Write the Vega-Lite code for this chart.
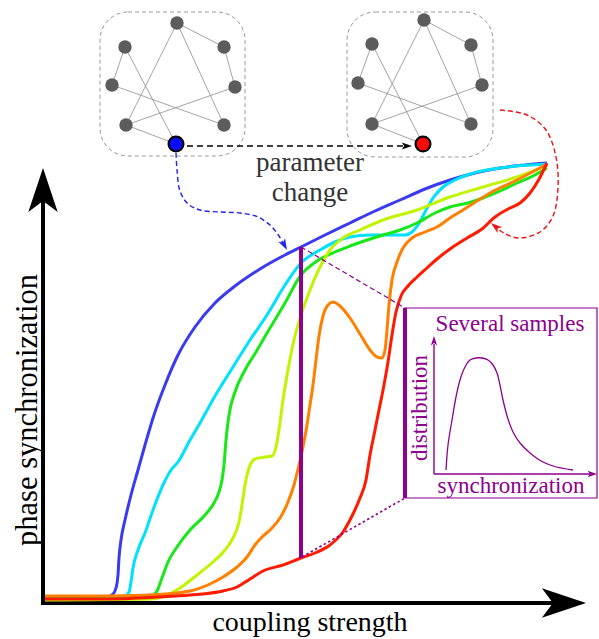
{
"$schema": "https://vega.github.io/schema/vega-lite/v6.json",
"width": 599, "height": 639, "padding": 0, "autosize": {"type": "none"},
"background": "white",
"config": {"view": {"stroke": null}},
"encoding": {
  "x": {"field": "x", "type": "quantitative", "scale": {"domain": [0, 599], "nice": false, "zero": false}, "axis": null},
  "y": {"field": "y", "type": "quantitative", "scale": {"domain": [0, 639], "nice": false, "zero": false, "reverse": true}, "axis": null}
},
"layer": [
  {"data": {"values": [{"x": 100, "x2": 245, "y": 12, "y2": 156}, {"x": 347, "x2": 493, "y": 12, "y2": 157}]},
   "mark": {"type": "rect", "fill": "white", "fillOpacity": 0, "stroke": "#9a9a9a", "strokeWidth": 1, "strokeDash": [4, 3], "cornerRadius": 28},
   "encoding": {"x2": {"field": "x2"}, "y2": {"field": "y2"}}},
  {"data": {"values": [
    {"x": 177, "y": 23, "x2": 224, "y2": 47}, {"x": 177, "y": 23, "x2": 224, "y2": 125}, {"x": 177, "y": 23, "x2": 126, "y2": 125},
    {"x": 125, "y": 47, "x2": 112, "y2": 85}, {"x": 125, "y": 47, "x2": 176, "y2": 144}, {"x": 224, "y": 47, "x2": 235, "y2": 87},
    {"x": 112, "y": 85, "x2": 224, "y2": 125}, {"x": 235, "y": 87, "x2": 126, "y2": 125}, {"x": 126, "y": 125, "x2": 176, "y2": 144},
    {"x": 424, "y": 20, "x2": 471, "y2": 45}, {"x": 424, "y": 20, "x2": 471, "y2": 124}, {"x": 424, "y": 20, "x2": 372, "y2": 124},
    {"x": 372, "y": 44, "x2": 358, "y2": 83}, {"x": 372, "y": 44, "x2": 423, "y2": 144}, {"x": 471, "y": 45, "x2": 482, "y2": 85},
    {"x": 358, "y": 83, "x2": 471, "y2": 124}, {"x": 482, "y": 85, "x2": 372, "y2": 124}, {"x": 372, "y": 124, "x2": 423, "y2": 144}
  ]},
   "mark": {"type": "rule", "stroke": "#8c8c8c", "strokeWidth": 0.8},
   "encoding": {"x2": {"field": "x2"}, "y2": {"field": "y2"}}},
  {"data": {"values": [
    {"x": 177, "y": 23}, {"x": 125, "y": 47}, {"x": 224, "y": 47}, {"x": 112, "y": 85}, {"x": 235, "y": 87}, {"x": 126, "y": 125}, {"x": 224, "y": 125},
    {"x": 424, "y": 20}, {"x": 372, "y": 44}, {"x": 471, "y": 45}, {"x": 358, "y": 83}, {"x": 482, "y": 85}, {"x": 372, "y": 124}, {"x": 471, "y": 124}
  ]},
   "mark": {"type": "point", "shape": "circle", "filled": true, "fill": "#5c5c5c", "opacity": 1, "size": 180, "strokeWidth": 0}},
  {"data": {"values": [{"x": 187, "y": 146, "x2": 403, "y2": 146}]},
   "mark": {"type": "rule", "stroke": "black", "strokeWidth": 1.3, "strokeDash": [6, 4]},
   "encoding": {"x2": {"field": "x2"}, "y2": {"field": "y2"}}},
  {"data": {"values": [{"x": 412, "y": 146}]},
   "mark": {"type": "point", "shape": "M0,0 L0.6,1.8 L0,1.35 L-0.6,1.8 Z", "filled": true, "fill": "black", "opacity": 1, "strokeWidth": 0, "size": 130, "angle": 90}},
  {"data": {"values": [{"x": 176, "y": 153}, {"x": 177, "y": 170}, {"x": 180, "y": 191}, {"x": 188, "y": 204}, {"x": 200, "y": 210}, {"x": 220, "y": 212}, {"x": 240, "y": 213}, {"x": 258, "y": 217}, {"x": 271, "y": 226}, {"x": 279, "y": 236}, {"x": 283, "y": 243}]},
   "mark": {"type": "line", "stroke": "#2222ee", "strokeWidth": 1.4, "strokeDash": [5, 3], "interpolate": "catmull-rom"},
   "encoding": {"order": {"value": null}}},
  {"data": {"values": [{"x": 287, "y": 250}]},
   "mark": {"type": "point", "shape": "M0,0 L0.6,1.8 L0,1.35 L-0.6,1.8 Z", "filled": true, "fill": "#2222ee", "opacity": 1, "strokeWidth": 0, "size": 160, "angle": 152}},
  {"data": {"values": [{"x": 500, "y": 110}, {"x": 527, "y": 115}, {"x": 546, "y": 130}, {"x": 556, "y": 157}, {"x": 558, "y": 187}, {"x": 553, "y": 216}, {"x": 540, "y": 232}, {"x": 518, "y": 238}, {"x": 504, "y": 233}, {"x": 497, "y": 228}]},
   "mark": {"type": "line", "stroke": "#ee1111", "strokeWidth": 1.4, "strokeDash": [5, 3], "interpolate": "catmull-rom"},
   "encoding": {"order": {"value": null}}},
  {"data": {"values": [{"x": 491, "y": 223}]},
   "mark": {"type": "point", "shape": "M0,0 L0.6,1.8 L0,1.35 L-0.6,1.8 Z", "filled": true, "fill": "#ee1111", "opacity": 1, "strokeWidth": 0, "size": 160, "angle": 309}},
  {"data": {"values": [{"x": 176, "y": 144}]},
   "mark": {"type": "point", "shape": "circle", "filled": true, "fill": "#0a0aff", "stroke": "black", "strokeWidth": 2.2, "opacity": 1, "size": 220}},
  {"data": {"values": [{"x": 423, "y": 144}]},
   "mark": {"type": "point", "shape": "circle", "filled": true, "fill": "#ff0a0a", "stroke": "black", "strokeWidth": 2.2, "opacity": 1, "size": 220}},
  {"data": {"values": [{"x": 310, "y": 171, "t": "parameter"}, {"x": 310, "y": 201, "t": "change"}]},
   "mark": {"type": "text", "font": "Liberation Serif", "fontSize": 27, "fill": "#333333", "align": "center", "baseline": "alphabetic"},
   "encoding": {"text": {"field": "t"}}},
  {"data": {"values": [{"x": 43, "y": 605, "x2": 43, "y2": 190}, {"x": 41, "y": 603, "x2": 565, "y2": 603}]},
   "mark": {"type": "rule", "stroke": "black", "strokeWidth": 4},
   "encoding": {"x2": {"field": "x2"}, "y2": {"field": "y2"}}},
  {"data": {"values": [{"x": 43, "y": 168}]},
   "mark": {"type": "point", "shape": "M0,0 L0.6,1.8 L0,1.35 L-0.6,1.8 Z", "filled": true, "fill": "black", "opacity": 1, "strokeWidth": 0, "size": 2400, "angle": 0}},
  {"data": {"values": [{"x": 586, "y": 603}]},
   "mark": {"type": "point", "shape": "M0,0 L0.6,1.8 L0,1.35 L-0.6,1.8 Z", "filled": true, "fill": "black", "opacity": 1, "strokeWidth": 0, "size": 2400, "angle": 90}},
  {"data": {"values": [
    {"s":"c1","x":45,"y":598},{"s":"c1","x":100,"y":598},{"s":"c1","x":108,"y":597},{"s":"c1","x":113,"y":594},{"s":"c1","x":116,"y":588},{"s":"c1","x":118,"y":575},{"s":"c1","x":119,"y":558},{"s":"c1","x":121,"y":540},{"s":"c1","x":125,"y":520},{"s":"c1","x":131,"y":495},{"s":"c1","x":138,"y":470},{"s":"c1","x":145,"y":445},{"s":"c1","x":154,"y":415},{"s":"c1","x":165,"y":385},{"s":"c1","x":178,"y":355},{"s":"c1","x":195,"y":327},{"s":"c1","x":215,"y":303},{"s":"c1","x":235,"y":286},{"s":"c1","x":260,"y":269},{"s":"c1","x":285,"y":255},{"s":"c1","x":301,"y":247},{"s":"c1","x":325,"y":235},{"s":"c1","x":350,"y":223},{"s":"c1","x":375,"y":211},{"s":"c1","x":400,"y":200},{"s":"c1","x":425,"y":189},{"s":"c1","x":450,"y":180},{"s":"c1","x":475,"y":173},{"s":"c1","x":500,"y":168},{"s":"c1","x":525,"y":165},{"s":"c1","x":547,"y":163},
    {"s":"c2","x":45,"y":598},{"s":"c2","x":110,"y":597},{"s":"c2","x":125,"y":596},{"s":"c2","x":129,"y":592},{"s":"c2","x":131,"y":582},{"s":"c2","x":133,"y":568},{"s":"c2","x":138,"y":550},{"s":"c2","x":145,"y":533},{"s":"c2","x":153,"y":510},{"s":"c2","x":163,"y":485},{"s":"c2","x":171,"y":470},{"s":"c2","x":178,"y":462},{"s":"c2","x":190,"y":440},{"s":"c2","x":200,"y":423},{"s":"c2","x":215,"y":396},{"s":"c2","x":233,"y":367},{"s":"c2","x":250,"y":340},{"s":"c2","x":267,"y":315},{"s":"c2","x":285,"y":285},{"s":"c2","x":301,"y":263},{"s":"c2","x":320,"y":250},{"s":"c2","x":335,"y":242},{"s":"c2","x":350,"y":237},{"s":"c2","x":370,"y":235},{"s":"c2","x":390,"y":235},{"s":"c2","x":405,"y":235},{"s":"c2","x":412,"y":232},{"s":"c2","x":418,"y":225},{"s":"c2","x":425,"y":212},{"s":"c2","x":433,"y":198},{"s":"c2","x":443,"y":187},{"s":"c2","x":455,"y":180},{"s":"c2","x":470,"y":174},{"s":"c2","x":500,"y":168},{"s":"c2","x":547,"y":164},
    {"s":"c3","x":45,"y":599},{"s":"c3","x":140,"y":598},{"s":"c3","x":152,"y":596},{"s":"c3","x":157,"y":591},{"s":"c3","x":162,"y":578},{"s":"c3","x":168,"y":562},{"s":"c3","x":177,"y":547},{"s":"c3","x":190,"y":530},{"s":"c3","x":205,"y":515},{"s":"c3","x":214,"y":503},{"s":"c3","x":219,"y":492},{"s":"c3","x":222,"y":480},{"s":"c3","x":224,"y":465},{"s":"c3","x":226,"y":440},{"s":"c3","x":229,"y":415},{"s":"c3","x":235,"y":392},{"s":"c3","x":245,"y":370},{"s":"c3","x":256,"y":352},{"s":"c3","x":267,"y":333},{"s":"c3","x":285,"y":303},{"s":"c3","x":301,"y":275},{"s":"c3","x":317,"y":261},{"s":"c3","x":335,"y":252},{"s":"c3","x":350,"y":246},{"s":"c3","x":383,"y":235},{"s":"c3","x":400,"y":230},{"s":"c3","x":417,"y":223},{"s":"c3","x":435,"y":213},{"s":"c3","x":450,"y":207},{"s":"c3","x":468,"y":203},{"s":"c3","x":483,"y":198},{"s":"c3","x":500,"y":191},{"s":"c3","x":517,"y":183},{"s":"c3","x":535,"y":175},{"s":"c3","x":547,"y":168},
    {"s":"c4","x":45,"y":600},{"s":"c4","x":150,"y":599},{"s":"c4","x":167,"y":595},{"s":"c4","x":180,"y":588},{"s":"c4","x":197,"y":575},{"s":"c4","x":213,"y":562},{"s":"c4","x":225,"y":550},{"s":"c4","x":233,"y":538},{"s":"c4","x":239,"y":522},{"s":"c4","x":242,"y":505},{"s":"c4","x":245,"y":485},{"s":"c4","x":249,"y":468},{"s":"c4","x":255,"y":459},{"s":"c4","x":265,"y":457},{"s":"c4","x":272,"y":456},{"s":"c4","x":276,"y":447},{"s":"c4","x":279,"y":430},{"s":"c4","x":283,"y":400},{"s":"c4","x":288,"y":370},{"s":"c4","x":294,"y":340},{"s":"c4","x":301,"y":315},{"s":"c4","x":310,"y":290},{"s":"c4","x":320,"y":267},{"s":"c4","x":330,"y":250},{"s":"c4","x":343,"y":238},{"s":"c4","x":360,"y":230},{"s":"c4","x":383,"y":220},{"s":"c4","x":417,"y":210},{"s":"c4","x":450,"y":197},{"s":"c4","x":483,"y":187},{"s":"c4","x":517,"y":177},{"s":"c4","x":547,"y":166},
    {"s":"c5","x":45,"y":596},{"s":"c5","x":100,"y":596},{"s":"c5","x":150,"y":595},{"s":"c5","x":190,"y":591},{"s":"c5","x":210,"y":584},{"s":"c5","x":223,"y":577},{"s":"c5","x":237,"y":567},{"s":"c5","x":247,"y":557},{"s":"c5","x":255,"y":545},{"s":"c5","x":262,"y":537},{"s":"c5","x":270,"y":530},{"s":"c5","x":280,"y":518},{"s":"c5","x":288,"y":502},{"s":"c5","x":294,"y":485},{"s":"c5","x":299,"y":465},{"s":"c5","x":303,"y":447},{"s":"c5","x":307,"y":425},{"s":"c5","x":310,"y":405},{"s":"c5","x":313,"y":385},{"s":"c5","x":316,"y":360},{"s":"c5","x":319,"y":336},{"s":"c5","x":323,"y":316},{"s":"c5","x":328,"y":305},{"s":"c5","x":333,"y":302},{"s":"c5","x":340,"y":306},{"s":"c5","x":350,"y":318},{"s":"c5","x":360,"y":334},{"s":"c5","x":370,"y":350},{"s":"c5","x":377,"y":357},{"s":"c5","x":382,"y":358},{"s":"c5","x":385,"y":350},{"s":"c5","x":387,"y":330},{"s":"c5","x":389,"y":305},{"s":"c5","x":392,"y":280},{"s":"c5","x":397,"y":262},{"s":"c5","x":403,"y":248},{"s":"c5","x":412,"y":238},{"s":"c5","x":425,"y":232},{"s":"c5","x":437,"y":227},{"s":"c5","x":450,"y":218},{"s":"c5","x":463,"y":210},{"s":"c5","x":477,"y":201},{"s":"c5","x":490,"y":193},{"s":"c5","x":517,"y":180},{"s":"c5","x":547,"y":164},
    {"s":"c6","x":45,"y":599},{"s":"c6","x":100,"y":599},{"s":"c6","x":157,"y":597},{"s":"c6","x":190,"y":595},{"s":"c6","x":223,"y":591},{"s":"c6","x":237,"y":587},{"s":"c6","x":250,"y":579},{"s":"c6","x":263,"y":571},{"s":"c6","x":283,"y":565},{"s":"c6","x":301,"y":558},{"s":"c6","x":315,"y":553},{"s":"c6","x":330,"y":545},{"s":"c6","x":343,"y":532},{"s":"c6","x":352,"y":516},{"s":"c6","x":360,"y":498},{"s":"c6","x":366,"y":480},{"s":"c6","x":370,"y":455},{"s":"c6","x":374,"y":435},{"s":"c6","x":379,"y":410},{"s":"c6","x":384,"y":385},{"s":"c6","x":388,"y":362},{"s":"c6","x":392,"y":335},{"s":"c6","x":396,"y":312},{"s":"c6","x":401,"y":296},{"s":"c6","x":408,"y":286},{"s":"c6","x":417,"y":277},{"s":"c6","x":427,"y":268},{"s":"c6","x":437,"y":259},{"s":"c6","x":450,"y":249},{"s":"c6","x":467,"y":238},{"s":"c6","x":482,"y":229},{"s":"c6","x":495,"y":217},{"s":"c6","x":510,"y":208},{"s":"c6","x":520,"y":203},{"s":"c6","x":530,"y":193},{"s":"c6","x":538,"y":181},{"s":"c6","x":547,"y":163}
  ]},
   "mark": {"type": "line", "strokeWidth": 3, "interpolate": "monotone"},
   "encoding": {"color": {"field": "s", "type": "nominal", "legend": null,
      "scale": {"domain": ["c1", "c2", "c3", "c4", "c5", "c6"], "range": ["#3a3af0", "#00e0ff", "#18e818", "#c0f400", "#ff8000", "#ff1a00"]}}}},
  {"data": {"values": [{"x": 301, "y": 247, "x2": 301, "y2": 558}, {"x": 405, "y": 308, "x2": 405, "y2": 498}]},
   "mark": {"type": "rule", "stroke": "#8e008e", "strokeWidth": 4},
   "encoding": {"x2": {"field": "x2"}, "y2": {"field": "y2"}}},
  {"data": {"values": [{"x": 301, "y": 247, "x2": 405, "y2": 308}]},
   "mark": {"type": "rule", "stroke": "#8e008e", "strokeWidth": 1.2, "strokeDash": [5, 3]},
   "encoding": {"x2": {"field": "x2"}, "y2": {"field": "y2"}}},
  {"data": {"values": [{"x": 302, "y": 557, "x2": 405, "y2": 498}]},
   "mark": {"type": "rule", "stroke": "#8e008e", "strokeWidth": 1.6, "strokeDash": [2.5, 2.5]},
   "encoding": {"x2": {"field": "x2"}, "y2": {"field": "y2"}}},
  {"data": {"values": [{"x": 405, "x2": 597, "y": 308, "y2": 498}]},
   "mark": {"type": "rect", "fill": "white", "fillOpacity": 0, "stroke": "#8e008e", "strokeWidth": 1.2},
   "encoding": {"x2": {"field": "x2"}, "y2": {"field": "y2"}}},
  {"data": {"values": [{"x": 434, "y": 474, "x2": 434, "y2": 344}, {"x": 434, "y": 474, "x2": 590, "y2": 474}]},
   "mark": {"type": "rule", "stroke": "#8e008e", "strokeWidth": 1.4},
   "encoding": {"x2": {"field": "x2"}, "y2": {"field": "y2"}}},
  {"data": {"values": [{"x": 434, "y": 336}]},
   "mark": {"type": "point", "shape": "M0,0 L0.6,1.8 L0,1.35 L-0.6,1.8 Z", "filled": true, "fill": "#8e008e", "opacity": 1, "strokeWidth": 0, "size": 110, "angle": 0}},
  {"data": {"values": [{"x": 597, "y": 474}]},
   "mark": {"type": "point", "shape": "M0,0 L0.6,1.8 L0,1.35 L-0.6,1.8 Z", "filled": true, "fill": "#8e008e", "opacity": 1, "strokeWidth": 0, "size": 110, "angle": 90}},
  {"data": {"values": [{"x": 446, "y": 470}, {"x": 448, "y": 445}, {"x": 452, "y": 420}, {"x": 456, "y": 397}, {"x": 460, "y": 380}, {"x": 465, "y": 367}, {"x": 470, "y": 360}, {"x": 476, "y": 358}, {"x": 482, "y": 358}, {"x": 488, "y": 360}, {"x": 493, "y": 365}, {"x": 497, "y": 373}, {"x": 500, "y": 385}, {"x": 503, "y": 400}, {"x": 508, "y": 419}, {"x": 513, "y": 432}, {"x": 520, "y": 443}, {"x": 530, "y": 453}, {"x": 541, "y": 461}, {"x": 553, "y": 466}, {"x": 573, "y": 470}]},
   "mark": {"type": "line", "stroke": "#8e008e", "strokeWidth": 1.3, "interpolate": "catmull-rom"},
   "encoding": {"order": {"value": null}}},
  {"data": {"values": [{"x": 510, "y": 331, "t": "Several samples"}, {"x": 511, "y": 493, "t": "synchronization"}]},
   "mark": {"type": "text", "font": "Liberation Serif", "fontSize": 23, "fill": "#8e008e", "align": "center", "baseline": "alphabetic"},
   "encoding": {"text": {"field": "t"}}},
  {"data": {"values": [{"x": 427, "y": 408, "t": "distribution"}]},
   "mark": {"type": "text", "font": "Liberation Serif", "fontSize": 23, "fill": "#8e008e", "align": "center", "baseline": "alphabetic", "angle": 270},
   "encoding": {"text": {"field": "t"}}},
  {"data": {"values": [{"x": 310, "y": 631, "t": "coupling strength"}]},
   "mark": {"type": "text", "font": "Liberation Serif", "fontSize": 28, "fill": "black", "align": "center", "baseline": "alphabetic"},
   "encoding": {"text": {"field": "t"}}},
  {"data": {"values": [{"x": 37, "y": 410, "t": "phase synchronization"}]},
   "mark": {"type": "text", "font": "Liberation Serif", "fontSize": 30.5, "fill": "black", "align": "center", "baseline": "alphabetic", "angle": 270},
   "encoding": {"text": {"field": "t"}}}
]
}
